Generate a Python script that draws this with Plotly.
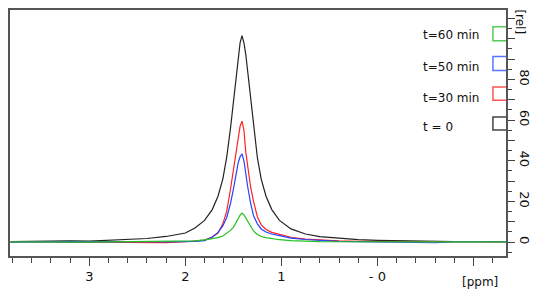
import plotly.graph_objects as go

ppm = [3.82, 3.6, 3.4, 3.2, 3.0, 2.8, 2.6, 2.4, 2.2, 2.0, 1.9, 1.8, 1.72, 1.66, 1.61, 1.57, 1.53, 1.50,
       1.47, 1.45, 1.43, 1.41, 1.39, 1.37, 1.35, 1.32, 1.29, 1.25, 1.21, 1.16, 1.10, 1.02, 0.9, 0.75,
       0.6, 0.4, 0.2, 0.0, -0.2, -0.4, -0.6, -0.8, -1.0, -1.2, -1.34]

t0 = [0.3, 0.5, 0.4, 0.6, 0.5, 0.9, 1.2, 1.8, 2.8, 4.5, 7.0, 10.7, 16, 22.6, 31, 41.5, 56, 69, 83.5,
      92, 98, 101.5, 98, 92, 83.5, 69, 56, 41.5, 31, 22.6, 16, 10.7, 6.5, 4.0, 2.7, 1.8, 1.2, 0.9, 0.7,
      0.5, 0.4, 0.3, 0.3, 0.2, 0.2]
t30 = [0.2, 0.1, 0.3, 0.0, 0.2, 0.1, 0.0, -0.1, -0.2, 0.2, 0.6, 1.0, 2.5, 4.5, 9, 15, 26, 35, 46, 52,
       57, 59.5, 55, 44, 36, 27, 20, 12.5, 8.5, 6.2, 4.8, 3.8, 2.4, 1.5, 1.0, 0.6, 0.4, 0.3, 0.2, 0.3,
       0.1, 0.2, 0.3, 0.2, 0.1]
t50 = [0.0, 0.2, 0.1, 0.3, 0.1, 0.2, 0.3, 0.2, 0.1, 0.2, 0.4, 0.8, 2.5, 4.8, 8, 12, 19, 26, 34, 39,
       42, 43.4, 40, 33, 27, 19, 13, 9, 6.5, 5, 4, 3.2, 2, 1.3, 0.8, 0.4, 0.2, 0.1, 0.2, 0.1, -0.3, 0.2,
       0.1, 0.3, 0.2]
t60 = [0.1, 0.0, 0.2, 0.1, 0.0, 0.1, 0.2, 0.1, 0.2, 0.3, 0.6, 1.1, 1.6, 2.2, 3.0, 4.2, 5.8, 7.3, 9.5,
       11.5, 13.3, 14.3, 13.4, 11.8, 10, 7.5, 5.5, 3.8, 2.8, 2.2, 1.7, 1.2, 0.8, 0.5, 0.3, 0.2, 0.1, 0.1,
       0.0, 0.1, 0.1, 0.0, 0.1, 0.0, 0.1]

series_names = ["t = 0", "t=30 min", "t=50 min", "t=60 min"]
series_vals = [t0, t30, t50, t60]
colors = ["#222222", "#ff2222", "#2244ff", "#22c022"]
legend_colors = ["#444444", "#ff5555", "#5577ff", "#55cc55"]

x_tickvals = [3, 2, 1, 0, -1]
x_ticktext = ["3", "2", "1", "- 0", ""]
y_tickvals = [0, 10, 20, 30, 40, 50, 60, 70, 80, 90, 100, 110]
y_ticktext = ["0", "", "20", "", "40", "", "60", "", "80", "", "", ""]

FONT = "DejaVu Sans"

fig = go.Figure()
for name, vals, c in zip(series_names, series_vals, colors):
    fig.add_trace(go.Scatter(x=ppm, y=vals, mode="lines", name=name,
                             line=dict(color=c, width=1.2), showlegend=False))

# legend boxes (open to the right, against axis) and labels
leg_y = [(55.1, 61.5, 56.6), (69.8, 76.2, 70.9), (84.4, 91.2, 86.3), (99.0, 105.9, 101.8)]
x_box0, x_box1 = -1.203, -1.339
for (y0, y1, yt), name, lc in zip(leg_y, series_names, legend_colors):
    fig.add_shape(type="path", xref="x", yref="y",
                  path=f"M {x_box1},{y1} L {x_box0},{y1} L {x_box0},{y0} L {x_box1},{y0}",
                  line=dict(color=lc, width=1.5))
    fig.add_annotation(x=-0.45, y=yt, xref="x", yref="y", text=name, showarrow=False,
                       xanchor="left", yanchor="middle",
                       font=dict(family=FONT, size=12, color="#111"))

fig.add_annotation(x=1.0, xref="paper", y=108.5, yref="y", xshift=14, text="[rel]",
                   showarrow=False, textangle=90, xanchor="center", yanchor="middle",
                   font=dict(family=FONT, size=12, color="#111"))
fig.add_annotation(x=-1.07, xref="x", y=0, yref="paper", yshift=-26, text="[ppm]",
                   showarrow=False, xanchor="center", yanchor="middle",
                   font=dict(family=FONT, size=12, color="#111"))

fig.update_layout(
    width=540, height=295,
    margin=dict(l=9, r=34, t=8, b=39),
    paper_bgcolor="white", plot_bgcolor="white",
    showlegend=False,
    xaxis=dict(range=[3.826, -1.339], tickvals=x_tickvals, ticktext=x_ticktext,
               ticks="outside", ticklen=8, tickwidth=1.2, tickcolor="#444",
               minor=dict(dtick=0.2, tick0=0, ticks="outside", ticklen=5, tickwidth=1.2, tickcolor="#444"),
               showgrid=False, zeroline=False, showline=True, linecolor="#555", linewidth=1.5,
               mirror=True, tickfont=dict(family=FONT, size=13, color="#111")),
    yaxis=dict(range=[-6.8, 114.1], side="right", tickvals=y_tickvals, ticktext=y_ticktext,
               ticks="outside", ticklen=7, tickwidth=1.2, tickcolor="#444", tickangle=90,
               minor=dict(dtick=5, tick0=0, ticks="outside", ticklen=4, tickwidth=1.2, tickcolor="#444"),
               showgrid=False, zeroline=False, showline=True, linecolor="#555", linewidth=1.5,
               mirror=True, tickfont=dict(family=FONT, size=13, color="#111")),
)

fig.write_html("out.html", config={"displayModeBar": False},
               post_script="document.body.style.margin='0';document.body.style.overflow='hidden';")
